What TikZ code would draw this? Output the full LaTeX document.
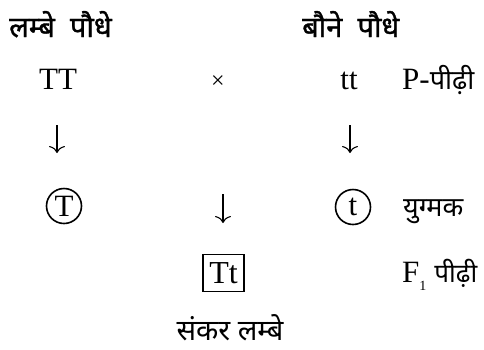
\documentclass[tikz,border=0pt]{standalone}
\usepackage{fontspec}
\setmainfont{Liberation Serif}
\newfontfamily\dev[Script=Devanagari]{Noto Sans}
\newfontfamily\devbold[Script=Devanagari, FakeBold=1.2]{Noto Sans}
\usetikzlibrary{arrows.meta}
\tikzset{
  lat/.style={font=\fontsize{31}{31}\selectfont, inner sep=0pt, anchor=base},
  deva/.style={font=\dev\fontsize{27}{27}\selectfont, inner sep=0pt, anchor=base},
  devb/.style={font=\devbold\bfseries\fontsize{29}{29}\selectfont, inner sep=0pt, anchor=base},
  gam/.style={circle, draw, line width=1.6pt, minimum size=35pt, inner sep=0pt, font=\fontsize{31}{31}\selectfont},
  zyg/.style={rectangle, draw, line width=1.1pt, minimum width=41pt, minimum height=37pt, inner sep=0pt, font=\fontsize{32}{32}\selectfont},
  arr/.style={line width=1.1pt, -{To[length=7pt,width=16pt]}}
}
\begin{document}
\begin{tikzpicture}[x=1pt,y=-1pt]
\useasboundingbox (0,0) rectangle (484,349);
\node[devb, anchor=base west] (h1) at (9,37) {लम्बे\ \ पौधे};
\node[devb, anchor=base west] (h2) at (302,37) {बौने\ \ पौधे};
\node[lat] (TT) at (58,89) {TT};
\node[lat, font=\fontsize{24}{24}\selectfont] (x) at (218,88) {×};
\node[lat] (tt) at (349,89) {tt};
\node[lat, anchor=base west] (P) at (402,89) {P-{\dev\fontsize{27}{27}\selectfont पीढ़ी}};
\coordinate (a1s) at (57,125); \coordinate (a1e) at (57,153);
\coordinate (a2s) at (350,125); \coordinate (a2e) at (350,153);
\coordinate (a3s) at (223,194); \coordinate (a3e) at (223,223);
\draw[arr] (a1s) -- (a1e);
\draw[arr] (a2s) -- (a2e);
\draw[arr] (a3s) -- (a3e);
\node[gam] (cT) at (64,206) {T};
\node[gam] (ct) at (353,207) {t};
\node[deva, anchor=base west] (yug) at (403,216) {युग्मक};
\node[zyg] (box) at (223.5,273) {Tt};
\node[lat, anchor=base west] (F) at (402,282) {F\raisebox{-8pt}{\fontsize{14}{14}\selectfont 1}\hspace{8pt}{\dev\fontsize{26}{26}\selectfont पीढ़ी}};
\node[deva, font=\dev\fontsize{29}{29}\selectfont] (sank) at (230,340) {संकर लम्बे};
\end{tikzpicture}
\end{document}
